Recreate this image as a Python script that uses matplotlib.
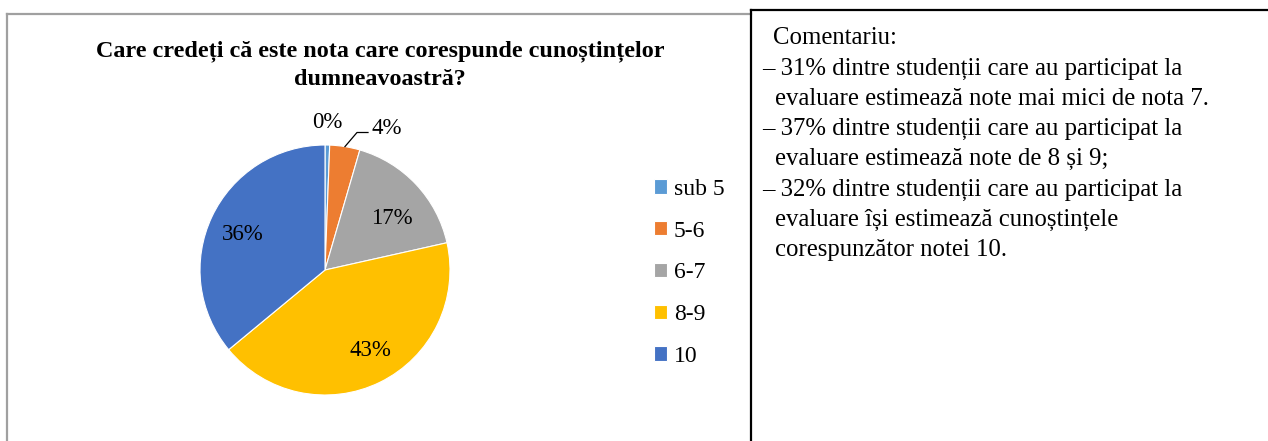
import numpy as np
import matplotlib
matplotlib.use("Agg")
import matplotlib.pyplot as plt
from matplotlib.lines import Line2D

# ---- data ----
categories = ["sub 5", "5-6", "6-7", "8-9", "10"]
values = [0.6, 3.9, 17.0, 42.5, 36.0]
pct_labels = ["0%", "4%", "17%", "43%", "36%"]
colors = ["#5B9BD5", "#ED7D31", "#A5A5A5", "#FFC000", "#4472C4"]
title = "Care credeți că este nota care corespunde cunoștințelor\ndumneavoastră?"
comment_lines = [
    ("Comentariu:", 0),
    ("– 31% dintre studenții care au participat la", 1),
    ("evaluare estimează note mai mici de nota 7.", 2),
    ("– 37% dintre studenții care au participat la", 1),
    ("evaluare estimează note de 8 și 9;", 2),
    ("– 32% dintre studenții care au participat la", 1),
    ("evaluare își estimează cunoștințele", 2),
    ("corespunzător notei 10.", 2),
]

plt.rcParams['font.family'] = ['Liberation Serif', 'DejaVu Serif']

W, H = 1268, 441
fig = plt.figure(figsize=(W / 100, H / 100), dpi=100)
fig.patch.set_facecolor("white")

def fx(px):
    return px / W

def fy(py):
    return 1 - py / H

# ---- borders ----
fig.add_artist(Line2D([fx(7), fx(7)], [fy(14), fy(445)], color="#A0A0A0", lw=1.6, transform=fig.transFigure))
fig.add_artist(Line2D([fx(7), fx(751)], [fy(14), fy(14)], color="#A0A0A0", lw=1.6, transform=fig.transFigure))
fig.add_artist(Line2D([fx(751), fx(751)], [fy(10), fy(445)], color="black", lw=1.6, transform=fig.transFigure))
fig.add_artist(Line2D([fx(751), fx(1270)], [fy(10), fy(10)], color="black", lw=1.6, transform=fig.transFigure))

# ---- title ----
fig.text(fx(380), fy(65), title, ha="center", va="center", fontsize=17.4,
         fontweight="bold", linespacing=1.4)

# ---- pie ----
cx, cy, r = 325, 270, 125
ax = fig.add_axes([fx(cx - r), fy(cy + r), 2 * r / W, 2 * r / H])
ax.axis("off")
wedges, _ = ax.pie(values, colors=colors, startangle=90, counterclock=False,
                   radius=1, wedgeprops=dict(edgecolor="white", linewidth=0.8))
ax.set_xlim(-1, 1)
ax.set_ylim(-1, 1)
ax.set_aspect("auto")

label_dist = [1.18, None, 0.68, 0.72, 0.73]
label_shift = [(0.0, 0.0), None, (0.04, -0.05), (0.05, 0.0), (0.0, -0.03)]
for i, (w, lab) in enumerate(zip(wedges, pct_labels)):
    mid = np.deg2rad((w.theta1 + w.theta2) / 2)
    if i == 1:
        # label with leader line
        x0, y0 = np.cos(mid), np.sin(mid)
        tx, ty = 0.344, 1.10
        ax.plot([x0, 0.256, tx], [y0, ty, ty], color="black", lw=0.9, clip_on=False)
        ax.text(tx + 0.03, ty + 0.035, lab, ha="left", va="center", fontsize=16.5)
    else:
        d = label_dist[i]
        sx, sy = label_shift[i]
        ax.text(d * np.cos(mid) + sx, d * np.sin(mid) + sy, lab,
                ha="center", va="center", fontsize=16.5)

# ---- legend ----
leg = fig.legend(wedges, categories, loc="upper left",
                 bbox_to_anchor=(fx(642), fy(167)), frameon=False,
                 fontsize=17, handlelength=0.55, handleheight=0.55,
                 handletextpad=0.3, labelspacing=0.88, borderpad=0)

# ---- comment text ----
y0, dy = 38.5, 30.2
for k, (line, kind) in enumerate(comment_lines):
    x = {0: 773, 1: 762, 2: 775}[kind]
    fig.text(fx(x), fy(y0 + k * dy), line, ha="left", va="center", fontsize=17.8)

fig.savefig("out.png", dpi=100, facecolor="white")
